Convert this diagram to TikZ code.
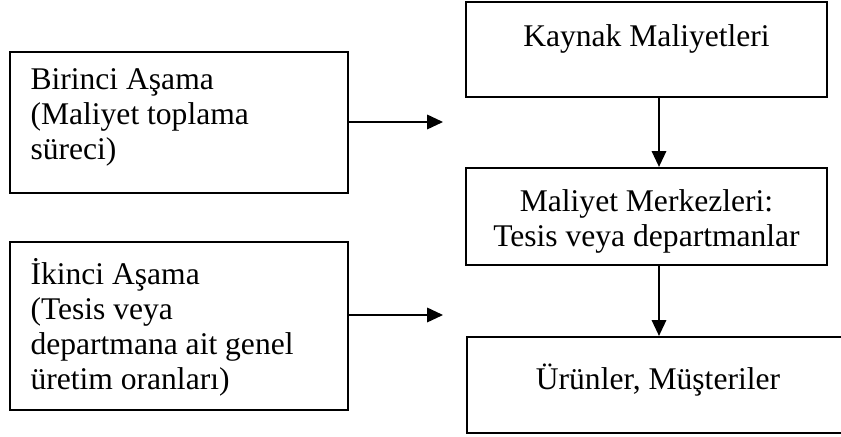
\documentclass[tikz,border=0pt]{standalone}
\usepackage{fontspec}
\setmainfont{Liberation Serif}
\usetikzlibrary{arrows.meta}

\begin{document}
\begin{tikzpicture}[
    x=0.38pt, y=-0.38pt,
    box/.style={draw, line width=0.8pt, inner sep=0pt},
    txt/.style={font=\fontsize{12}{13.3}\selectfont, inner sep=0pt},
    arrow/.style={-{Triangle[length=6pt,width=5.5pt]}, line width=0.6pt}
  ]
  \useasboundingbox (0,0) rectangle (841,437);
  \clip (0,0) rectangle (841,437);

  \node[box, minimum width=128.4pt, minimum height=53.6pt] (birinci) at (179,122.5) {};
  \node[box, minimum width=128.4pt, minimum height=63.8pt] (ikinci)  at (179,326)   {};
  \node[box, minimum width=137.2pt, minimum height=36.1pt] (kaynak)  at (646.5,49.5) {};
  \node[box, minimum width=137.2pt, minimum height=36.9pt] (merkez)  at (646.5,216.5) {};
  \node[box, minimum width=145.2pt, minimum height=36.5pt] (urun)    at (658,385)   {};

  \node[txt, anchor=north west, align=left] (birinci-t) at (30,68.5)
    {Birinci Aşama\\(Maliyet toplama\\süreci)};
  \node[txt, anchor=north west, align=left] (ikinci-t) at (30,258)
    {İkinci Aşama\\(Tesis veya\\departmana ait genel\\üretim oranları)};
  \node[txt, anchor=base] (kaynak-t) at (646.5,47) {Kaynak Maliyetleri};
  \node[txt, anchor=north, align=center] (merkez-t) at (646.5,189)
    {Maliyet Merkezleri:\\Tesis veya departmanlar};
  \node[txt, anchor=base] (urun-t) at (658,389) {Ürünler, Müşteriler};

  \coordinate (birinci-uc) at (443,122);
  \coordinate (ikinci-uc)  at (443,315);
  \coordinate (dikey)      at (659,0);

  \draw[arrow] (birinci.east |- birinci-uc) -- (birinci-uc);
  \draw[arrow] (ikinci.east |- ikinci-uc)   -- (ikinci-uc);
  \draw[arrow] (kaynak.south -| dikey) -- (merkez.north -| dikey);
  \draw[arrow] (merkez.south -| dikey) -- (urun.north -| dikey);
\end{tikzpicture}
\end{document}
